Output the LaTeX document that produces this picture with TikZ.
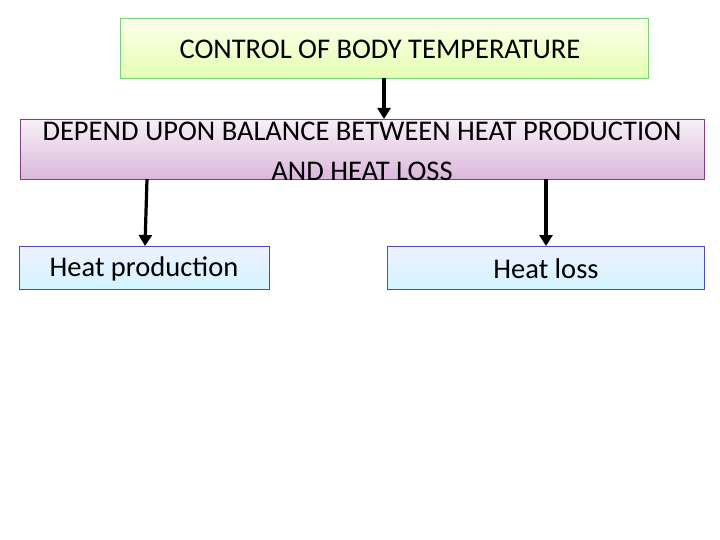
\documentclass[tikz,border=0pt]{standalone}
\usepackage{fontspec}
\setmainfont{Carlito}
\usetikzlibrary{arrows.meta}
\begin{document}
\begin{tikzpicture}[x=1pt,y=-1pt,
  arr/.style={line width=3.2pt,-{Triangle[length=11pt,width=13pt]}},
  lbl/.style={font=\fontsize{28.5}{40}\selectfont,align=center}]
\useasboundingbox (0,0) rectangle (720,540);
\fill[white] (0,0) rectangle (720,540);
\shade[top color=green!10!yellow!8,bottom color=green!35!yellow!30] (120,18) rectangle (648,78);
\draw[draw=green!50!gray!70,line width=0.8pt] (120,18) rectangle (648,78);
\node[lbl] (a) at (380,49) {CONTROL OF BODY TEMPERATURE};
\coordinate (a1) at (384,78);
\shade[top color=violet!6,bottom color=violet!28] (20,119) rectangle (704,179);
\draw[draw=violet!50!gray,line width=0.8pt] (20,119) rectangle (704,179);
\node[lbl] (b) at (362,151) {DEPEND UPON BALANCE BETWEEN HEAT PRODUCTION\\AND HEAT LOSS};
\coordinate (b0) at (384,119);
\coordinate (bl) at (147,179);
\coordinate (br) at (546,179);
\shade[top color=blue!6,bottom color=blue!22!cyan!18] (19,246) rectangle (269,289);
\draw[draw=blue!40!gray,line width=0.8pt] (19,246) rectangle (269,289);
\node[lbl] (c) at (144,269) {Heat production};
\coordinate (c0) at (145,246);
\shade[top color=blue!6,bottom color=blue!22!cyan!18] (387,246) rectangle (704,289);
\draw[draw=blue!40!gray,line width=0.8pt] (387,246) rectangle (704,289);
\node[lbl] (d) at (546,269) {Heat loss};
\coordinate (d0) at (546,246);
\draw[arr] (a1) -- (b0);
\draw[arr] (bl) -- (146,212) -- (c0);
\draw[arr] (br) -- (d0);
\end{tikzpicture}
\end{document}
